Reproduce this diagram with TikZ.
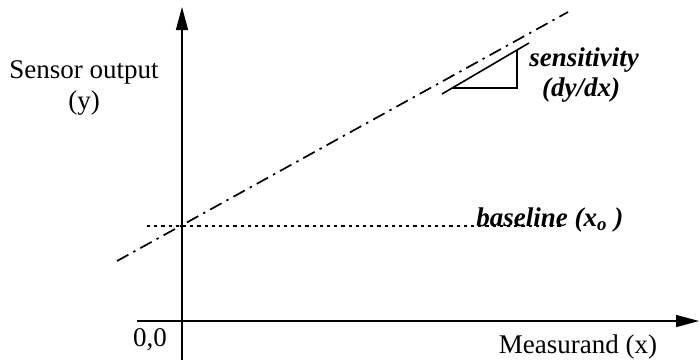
\documentclass[tikz,border=0pt]{standalone}
\usepackage{fontspec}
\setmainfont{Liberation Serif}
\usepackage{tikz}
\usetikzlibrary{arrows.meta}
\tikzset{
  sxaxis/.style={-{Triangle[length=11.5pt,width=6pt]}, line width=0.7pt},
  sxfit/.style={line width=0.85pt, dash pattern=on 6.5pt off 2.8pt on 1.2pt off 2.8pt},
  sxbase/.style={line width=0.75pt, dash pattern=on 1.6pt off 2pt},
  sxslope/.style={line width=0.8pt},
  sxlabel/.style={font=\fontsize{13.5}{15}\selectfont, align=center, inner sep=0pt},
  sxbold/.style={font=\fontsize{13.5}{15}\selectfont\bfseries\itshape, align=center, inner sep=0pt}
}
\begin{document}
\begin{tikzpicture}[x=0.5pt, y=-0.5pt]
  \useasboundingbox (0,0) rectangle (699,360);

  % axes
  \coordinate (ybot) at (182,360);
  \coordinate (ytop) at (182,7);
  \coordinate (xleft) at (137,321);
  \coordinate (xright) at (699,321);
  \draw[sxaxis] (ybot) -- (ytop);
  \draw[sxaxis] (xleft) -- (xright);

  \node[sxlabel] (ylab) at (84,72) {Sensor output};
  \node[sxlabel] (ysym) at (84,103) {(y)};
  \node[sxlabel] (orig) at (150,340) {0,0};
  \node[sxlabel] (xlab) at (578,347) {Measurand (x)};

  % sensor line and baseline
  \coordinate (fit0) at (117,261);
  \coordinate (fit1) at (568,12);
  \draw[sxfit] (fit0) -- (fit1);
  \coordinate (bl0) at (147,226);
  \coordinate (bl1) at (561,226);
  \draw[sxbase] (bl0) -- (bl1);
  \node[sxbold, anchor=base west] (blab) at (476,226) {baseline (x\textsubscript{o} )};

  % slope triangle
  \coordinate (sl0) at (442,94);
  \coordinate (sl1) at (529,43);
  \coordinate (tria) at (452,88);
  \coordinate (trib) at (517,88);
  \coordinate (tric) at (517,50);
  \draw[sxslope] (sl0) -- (sl1);
  \draw[sxslope] (tria) -- (trib) -- (tric);
  \node[sxbold] (sens) at (584,60) {sensitivity};
  \node[sxbold] (dydx) at (581,90) {(dy/dx)};
\end{tikzpicture}
\end{document}
